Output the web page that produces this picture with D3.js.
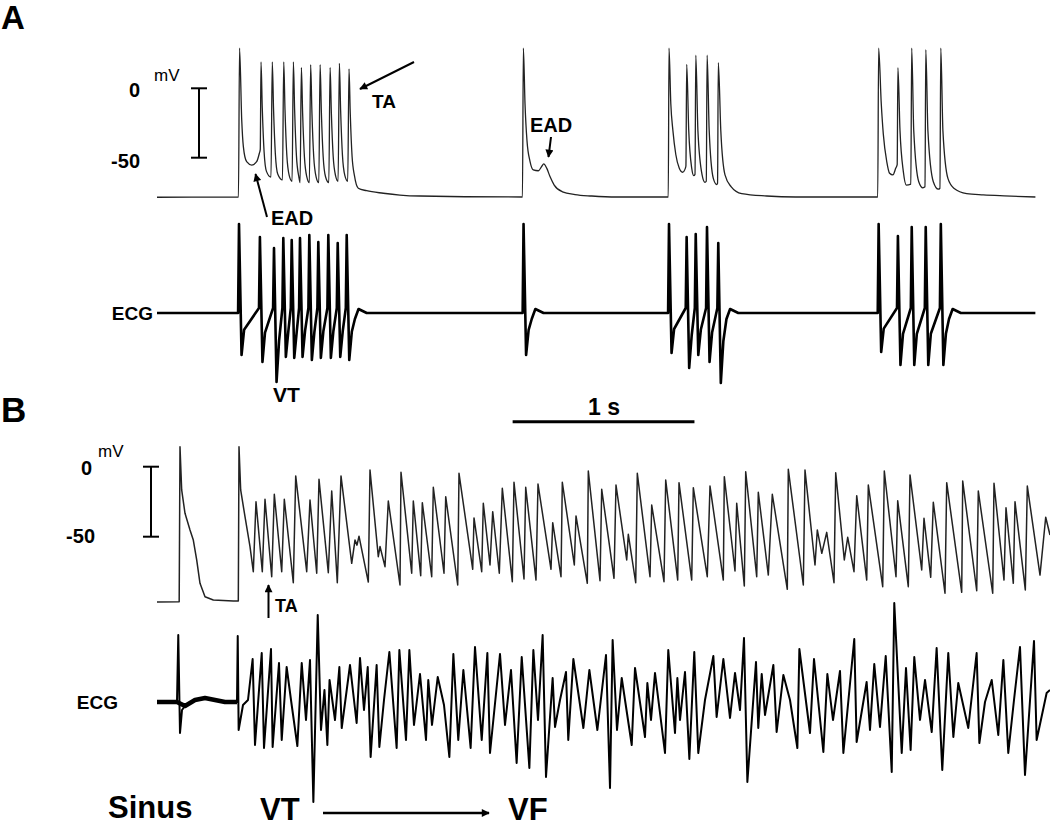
<!DOCTYPE html>
<html>
<head>
<meta charset="utf-8">
<script src="https://cdn.jsdelivr.net/npm/d3@7"></script>
<style>
  body { margin: 0; background: #fff; }
  svg { display: block; font-family: "Liberation Sans", Arial, sans-serif; }
</style>
</head>
<body>
<svg id="chart" width="1050" height="828"></svg>
<script>
"use strict";

//data (time in ms, action potential in mV, ECG in mV)

//panel A, action potential

const apA_beat1Start = [[0, -78.5], [448, -78.3], [454, 29], [466, -22.8], [475, -42], [493, -52.9], [521, -55.3], [548, -52.9], [563, -46.8], [568, -44]];
const apA_beat1SpikeTimes = [572, 634, 697, 750, 794, 845, 897, 952, 1003, 1056];
const apA_beat1SpikePeaks = [19, 19, 19, 19, 15, 17, 17, 15, 18, 14];
const apA_beat1SpikeTroughs = [-64, -66, -67, -68, -68, -68, -68, -67, -67];
const apA_beat1Tail = [[1107, -72], [1153, -73.8], [1245, -75.6], [1336, -76.9], [1446, -77.6], [2010, -78.3]];

const apA_beat2 = [[2015, 29], [2024, -10.9], [2035, -37.9], [2051.5, -52.6], [2069.7, -58.8], [2097.2, -59.4], [2115.9, -56.3], [2127.1, -54.5], [2143.4, -57.5], [2161.5, -63.6], [2184.6, -69.7], [2230.3, -74.6], [2299, -76.6], [2390.9, -77.6], [2528.4, -78.3], [2812, -78.3]];

const apA_beat3 = [[2816, 29], [2825.9, -11], [2837.5, -30.5], [2853.4, -47.7], [2872.1, -57.5], [2890.3, -60.5], [2906.2, -57.5], [2909, -56], [2913.4, 17.3], [2924.6, -30.5], [2940.9, -57.5], [2952.1, -62.9], [2959, -62], [2963.4, 23.9], [2975, -30.5], [2998, -62.4], [3014, -67.8], [3021, -67], [3025.6, 23.9], [3037.1, -30.5], [3059.7, -64.9], [3078.4, -69.3], [3083, -68.5], [3087.2, 18.5], [3100.9, -30.5], [3124, -62.4], [3158.4, -71], [3215.9, -75.9], [3353.4, -77.6], [3513.4, -78.3], [3964, -78.3]];

const apA_beat4 = [[3969, 29], [3983.4, -11], [3994.7, -33], [4013.4, -52.6], [4029.3, -61.2], [4047.5, -62.4], [4063.4, -57.5], [4071, -55], [4075, 14.8], [4086.5, -30.5], [4104.7, -59.9], [4120.9, -69.7], [4146, -69], [4150.9, 29], [4162.1, -30.5], [4189.6, -67.3], [4212.5, -71.7], [4224, -71], [4228.4, 27.8], [4240, -30.5], [4269.7, -67.3], [4297.2, -72.7], [4306, -72], [4310.9, 29], [4322.5, -30.5], [4350, -64.9], [4384.6, -72.2], [4453.4, -75.9], [4544.7, -76.8], [4659.6, -77.5], [4831.2, -78.3]];

//panel A, ECG complexes (one per upstroke)

const ecgA_times = [[451, 566, 643.5, 694.7, 740.9, 786.5, 837.7, 887.2, 942.2, 993.9, 1043.4], [2016], [2816, 2913, 2963, 3025, 3087], [3969, 4075, 4151, 4228, 4311]];
const ecgA_peaks = [[0.89, 0.76, 0.65, 0.75, 0.73, 0.75, 0.78, 0.71, 0.78, 0.70, 0.78], [0.89], [0.89, 0.76, 0.79, 0.86, 0.70], [0.89, 0.77, 0.86, 0.86, 0.89]];
const ecgA_troughs = [[-0.42, -0.49, -0.69, -0.44, -0.45, -0.44, -0.47, -0.45, -0.45, -0.44, -0.47], [-0.42], [-0.40, -0.55, -0.42, -0.49, -0.70], [-0.39, -0.52, -0.52, -0.52, -0.52]];
const ecgA_end = 4831;

//panel B, action potential

const apB_sinus = [[0, -96.6], [122, -96.5], [126.5, 14.3], [135.7, -16.6], [154, -33.3], [181.5, -45.2], [199.7, -52.4], [218.3, -66.6], [236.5, -83.3], [264, -92.9], [309.7, -95.2], [419.7, -95.9], [447.2, -96]];

const apB_ta = [[451, 14.3], [460.2, -16.6], [484, -35.7], [511.5, -57.1], [529.7, -75], [544.5, -25], [579.2, -75], [594, -23.3], [630.9, -78.6], [645.2, -19.7], [685.9, -75], [700.2, -23.3], [749.7, -82.9], [762.9, -6.6], [823.4, -75], [841.5, -23.8], [878.4, -76.1], [891, -9], [942.2, -75.7], [960.9, -17.4], [991.7, -82.9], [1012, -6.6], [1070.9, -69], [1089, -52.4], [1100, -56], [1111, -49.6], [1162.2, -82.4], [1171.5, -2.4], [1217.2, -64.3], [1226.5, -57], [1254, -71.4], [1272.2, -24.5], [1336.5, -84.5], [1342, -4], [1400.9, -76.1], [1409.7, -24.5], [1450.4, -77.9], [1459.2, -25.7], [1510.9, -78.6], [1519.7, -14.7], [1578.5, -76.1], [1587.9, -21.4], [1653.9, -84.5], [1661, -4.7], [1736.4, -73.3], [1743.5, -36.6], [1785.9, -75], [1794.7, -26.1], [1831.5, -70.2], [1846.4, -32.1], [1882.7, -76.1], [1899.2, -15.4], [1954.2, -82.1], [1963.5, -11.1], [2018.5, -80.2], [2027.9, -14.7], [2084.5, -81], [2095.5, -12.4], [2167, -73.3], [2176.4, -40], [2222, -78.6], [2229.2, -11.1], [2295.2, -70.2], [2304.5, -35.2], [2366.7, -83.3], [2372.2, -3.1], [2436.5, -81.4], [2445.9, -16.1], [2513.5, -79.7], [2524.5, -13.1], [2583.4, -66.6], [2592.2, -48.3], [2632.9, -82.9], [2641.7, -4.7], [2711.5, -78.6], [2720.9, -27.4], [2788.5, -82.1], [2797.9, -9.5], [2863.9, -81], [2871, -11.4], [2940.9, -81], [2949.7, -15], [3026.5, -78.6], [3041.5, -13.8]];

const apB_late = [[3114.7, -81], [3120.2, -7.1], [3179, -74.5], [3188.4, -26.1], [3230.2, -85.2], [3237.9, -3.6], [3298.4, -78.6], [3307.2, -18.3], [3362.2, -77.4], [3384.2, -19.7], [3466.7, -87.6], [3472.2, -1.9], [3554.7, -84.5], [3564, -2.4], [3619, -70.2], [3631.7, -45.2], [3656.4, -61.9], [3683.4, -46.9], [3723.5, -82.9], [3732.9, -4.3], [3780.2, -66.6], [3798.9, -50.4], [3833.5, -75], [3848.4, -20.7], [3903.4, -81], [3912.2, -13.1], [3991.4, -85.7], [4000.2, -3.1], [4064.5, -78.6], [4073.9, -24.3], [4132.2, -85.7], [4141.5, -5.9], [4205.9, -73.8], [4218.5, -36.9], [4255.4, -79], [4269.7, -25.4], [4334, -90.4], [4343.4, -11.4], [4425.9, -89.7], [4431.4, -10.2], [4508.4, -88.6], [4517.2, -17.4], [4596.4, -90.4], [4603.5, -11.9], [4658.5, -81], [4669.5, -29.3], [4709.7, -83.3], [4719, -25], [4775.7, -88], [4786.7, -13.8], [4856.5, -77.4], [4887.9, -36.1], [4911.5, -48.8]];

//panel B, ECG

const ecgB_sinus = [[0, 0], [110, 0], [117, 0.67], [126.5, -0.31], [137.5, -0.08], [154, -0.04], [181.5, -0.01], [209, 0.02], [264, 0.04], [319, 0.02], [374, 0], [440, 0], [444, 0.66], [449, -0.28], [473, -0.03], [500.5, 0.02]];

const ecgB_vt = [[526, 0.43], [539, -0.43], [576, 0.49], [588.5, -0.46], [627, 0.53], [636, -0.45], [671, 0.39], [686, -0.38], [713, 0.35], [737, 0.02], [772, -0.44], [796, 0.39], [819.5, -0.18], [841.5, 0.42], [860, -1.0], [884, 0.87], [902, -0.28], [921, 0.12], [937, -0.43], [949, 0.22], [979, -0.18], [1003, 0.35], [1016, -0.26], [1061.5, 0.37], [1098, -0.21], [1116.5, 0.44], [1138.5, -0.08], [1159, 0.35], [1175, -0.55], [1208, 0.37], [1223, -0.45], [1248.5, 0.02], [1278, 0.50], [1318, -0.46], [1333, 0.52], [1369.5, -0.38], [1388, 0.52], [1413.5, -0.23], [1446.5, 0.28], [1479.5, -0.38], [1492, 0.22], [1512.5, -0.23], [1544, 0.25], [1578.5, -0.03], [1608, -0.55], [1630, 0.48]];

const ecgB_vf = [[1657, -0.38], [1685, 0.32], [1725, -0.46], [1749, 0.55], [1786, -0.38], [1817, 0.49], [1831.5, -0.51], [1886.5, 0.48], [1914, -0.23], [1947, 0.32], [1978, -0.61], [2006, 0.45], [2048, -0.66], [2070, 0.52], [2095.5, -0.18], [2121, 0.67], [2139.5, -0.75], [2176, 0.24], [2189, -0.25], [2216.5, 0.02], [2249.5, 0.30], [2262, -0.38], [2290, 0.43], [2345, -0.26], [2378, 0.32], [2422, -0.28], [2469.5, 0.47], [2491.5, -0.86], [2506, 0.62], [2530, -0.28], [2556, 0.24], [2611, -0.43], [2629, 0.34], [2684, -0.35], [2697, 0.19], [2717, -0.18], [2739, 0.29], [2794, -0.51], [2812, 0.52], [2849, -0.31], [2862, 0.24], [2876.5, -0.18], [2904, 0.30], [2928, -0.57], [2955, 0.50], [2977, -0.51], [3014, 0.02], [3060, 0.46], [3078, -0.15], [3115, 0.43], [3151.5, -0.16], [3179, 0.29], [3206.5, -0.08], [3228.5, 0.64], [3247, -0.80], [3294.5, 0.40], [3307, -0.26], [3326, 0.28], [3344, -0.13], [3390, 0.37], [3408, -0.30], [3445, 0.27], [3481.5, 0.02], [3522, -0.46], [3533, 0.53], [3591.5, -0.31], [3613.5, 0.43], [3665, -0.50], [3687, 0.28], [3718, -0.18], [3756.5, 0.31], [3775, -0.51], [3835, 0.63], [3848, -0.40], [3903, 0.20], [3921.5, -0.28], [3945, 0.38], [3976.5, -0.25], [4008, 0.46], [4041, -0.70], [4055, 0.99], [4096, -0.51], [4119.5, 0.34], [4145, -0.48], [4165, 0.45], [4196.5, -0.18], [4224, 0.22], [4261, -0.30], [4288, 0.54], [4319, -0.68], [4352, 0.49], [4380, -0.35], [4407, 0.19], [4462, -0.26], [4508, 0.49], [4523, -0.41], [4554, 0.0], [4591, 0.22], [4627, -0.33], [4655, 0.42], [4682, -0.51], [4713.5, 0.02], [4746.5, 0.55], [4774, -0.73], [4823.5, 0.61], [4838, -0.38], [4893, 0.09], [4911.5, 0.12]];

//scale bars

const scaleBarMv = [0, -50];
const scaleBarMs = [1956, 2956];

//svg

const svg = d3.select("#chart");

svg.append("rect").attr("width", 1050).attr("height", 828).attr("fill", "#fff");

svg.append("defs")
  .append("marker")
  .attr("id", "head")
  .attr("viewBox", "0 0 10 10")
  .attr("refX", 9)
  .attr("refY", 5)
  .attr("markerWidth", 9)
  .attr("markerHeight", 8)
  .attr("markerUnits", "userSpaceOnUse")
  .attr("orient", "auto")
  .append("path")
  .attr("d", "M0,0 L10,5 L0,10 z")
  .attr("fill", "#000");

//scales

const x = d3.scaleLinear().domain([0, 5000]).range([157, 157 + 5000 / 5.5]);

const yApA = d3.scaleLinear().domain([-50, 0]).range([157.7, 88.3]);
const yApB = d3.scaleLinear().domain([-50, 0]).range([536.7, 466.7]);
const yEcgA = d3.scaleLinear().domain([-1, 1]).range([413, 213]);
const yEcgB = d3.scaleLinear().domain([-1, 1]).range([802, 602]);

//trace builders

const spikeTrain = (times, peaks, troughs) => times.flatMap((t, i) => {

  const tr = troughs[i] ?? troughs[i - 1];
  const d = peaks[i] - tr;
  const pts = [[t, peaks[i]], [t + 7, peaks[i] - 0.4 * d], [t + 17, peaks[i] - 0.78 * d], [t + 30, peaks[i] - 0.95 * d]];

  if (i < times.length - 1) pts.push([times[i + 1] - 7, troughs[i]]);

  return pts;

});

const ecgBurst = (times, peaks, troughs) => times.flatMap((t, i) => {

  const pts = [[t - 5, i ? 0.05 : 0], [t, peaks[i]], [t + 14, troughs[i]], [t + 28, troughs[i] * 0.4]];

  if (i === times.length - 1) pts.push([t + 45, -0.06], [t + 65, 0.04], [t + 110, 0]);

  return pts;

});

const drawTrace = (pts, yScale, curve, width, color) => {

  const line = d3.line()
    .x((d) => x(d[0]))
    .y((d) => yScale(d[1]))
    .curve(curve);

  svg.append("path")
    .datum(pts)
    .attr("d", line)
    .attr("fill", "none")
    .attr("stroke", color)
    .attr("stroke-width", width)
    .attr("stroke-linejoin", "round");

};

//panel A traces

const apA = [
  ...apA_beat1Start,
  ...spikeTrain(apA_beat1SpikeTimes, apA_beat1SpikePeaks, apA_beat1SpikeTroughs),
  ...apA_beat1Tail,
  ...apA_beat2,
  ...apA_beat3,
  ...apA_beat4
];

drawTrace(apA, yApA, d3.curveMonotoneX, 1.3, "#222");

const ecgA = [[0, 0], ...ecgA_times.flatMap((t, i) => ecgBurst(t, ecgA_peaks[i], ecgA_troughs[i])), [ecgA_end, 0]];

drawTrace(ecgA, yEcgA, d3.curveLinear, 2.6, "#000");

//panel B traces

drawTrace([...apB_sinus, ...apB_ta, ...apB_late], yApB, d3.curveLinear, 1.5, "#222");

drawTrace([...ecgB_sinus, ...ecgB_vt, ...ecgB_vf], yEcgB, d3.curveLinear, 2, "#000");
drawTrace(ecgB_sinus.filter((d) => d[0] <= 110 || d[0] >= 150 && d[0] <= 440), yEcgB, d3.curveLinear, 4.5, "#000");

//scale bars

const mvBar = (cx, yScale) => {

  const g = svg.append("g").attr("stroke", "#000").attr("stroke-width", 2);

  g.append("line").attr("x1", cx).attr("x2", cx).attr("y1", yScale(scaleBarMv[0])).attr("y2", yScale(scaleBarMv[1]));

  scaleBarMv.forEach((v) => {
    g.append("line").attr("x1", cx - 8).attr("x2", cx + 8).attr("y1", yScale(v)).attr("y2", yScale(v));
  });

};

mvBar(199, yApA);
mvBar(151, yApB);

svg.append("line")
  .attr("x1", x(scaleBarMs[0]))
  .attr("x2", x(scaleBarMs[1]))
  .attr("y1", 421.7)
  .attr("y2", 421.7)
  .attr("stroke", "#000")
  .attr("stroke-width", 3);

//arrows

const arrows = [
  [414, 62, 360, 89],
  [267, 217, 255.5, 174],
  [551, 137, 548.5, 157],
  [268.5, 618, 268.5, 585],
  [323, 813, 489, 813]
];

svg.selectAll(".arrow")
  .data(arrows)
  .enter()
  .append("line")
  .attr("class", "arrow")
  .attr("x1", (d) => d[0])
  .attr("y1", (d) => d[1])
  .attr("x2", (d) => d[2])
  .attr("y2", (d) => d[3])
  .attr("stroke", "#000")
  .attr("stroke-width", (d, i) => i === 4 ? 2.5 : 2)
  .attr("marker-end", "url(#head)");

//labels

const labels = [
  ["A", 1, 29, 33, "bold", "start"],
  ["B", 1, 422, 35, "bold", "start"],
  ["0", 140, 97, 20, "bold", "end"],
  ["-50", 140, 168, 20, "bold", "end"],
  ["mV", 154, 81, 17, "normal", "start"],
  ["TA", 372, 108, 19, "bold", "start"],
  ["EAD", 271, 225, 20, "bold", "start"],
  ["EAD", 530, 132, 20, "bold", "start"],
  ["ECG", 153, 320, 19, "bold", "end"],
  ["VT", 273, 402, 21, "bold", "start"],
  ["1 s", 604, 415, 23, "bold", "middle"],
  ["0", 92, 475, 20, "bold", "end"],
  ["-50", 95, 543, 20, "bold", "end"],
  ["mV", 98, 457, 17, "normal", "start"],
  ["TA", 275, 612, 18, "bold", "start"],
  ["ECG", 118, 709, 19, "bold", "end"],
  ["Sinus", 108, 818, 31, "bold", "start"],
  ["VT", 260, 820, 31, "bold", "start"],
  ["VF", 508, 820, 31, "bold", "start"]
];

svg.selectAll(".label")
  .data(labels)
  .enter()
  .append("text")
  .attr("class", "label")
  .attr("x", (d) => d[1])
  .attr("y", (d) => d[2])
  .attr("font-size", (d) => d[3])
  .attr("font-weight", (d) => d[4])
  .attr("text-anchor", (d) => d[5])
  .attr("fill", "#000")
  .text((d) => d[0]);

</script>
</body>
</html>
